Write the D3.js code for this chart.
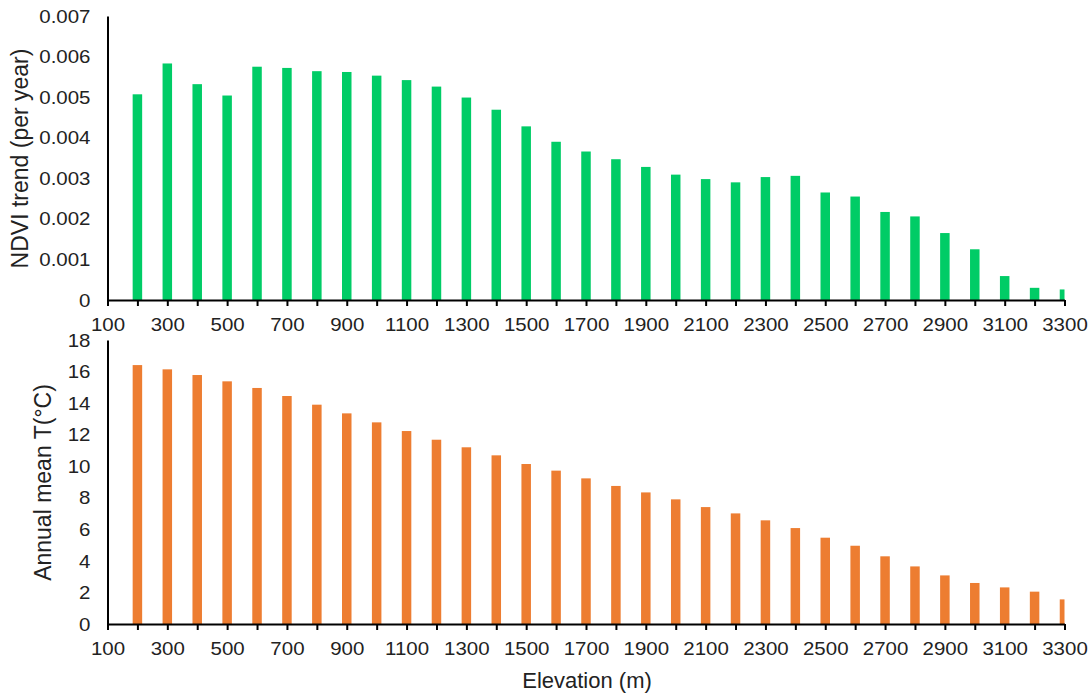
<!DOCTYPE html>
<html>
<head>
<meta charset="utf-8">
<script src="https://cdn.jsdelivr.net/npm/d3@7"></script>
<style>
  html, body { margin: 0; padding: 0; background: #fff; }
  svg { display: block; font-family: "Liberation Sans", Arial, sans-serif; }
</style>
</head>
<body>
<svg id="chart" width="1092" height="694"></svg>
<script>
// ---------- data ----------
const elevations = [200, 300, 400, 500, 600, 700, 800, 900, 1000, 1100, 1200, 1300, 1400, 1500, 1600, 1700,
  1800, 1900, 2000, 2100, 2200, 2300, 2400, 2500, 2600, 2700, 2800, 2900, 3000, 3100, 3200, 3300];
const ndviTrend = [0.00507, 0.00583, 0.00532, 0.00504, 0.00575, 0.00572, 0.00564, 0.00562, 0.00553, 0.00542,
  0.00526, 0.00499, 0.00469, 0.00428, 0.00390, 0.00366, 0.00347, 0.00328, 0.00309, 0.00298, 0.00290,
  0.00303, 0.00306, 0.00265, 0.00255, 0.00217, 0.00206, 0.00165, 0.00125, 0.00059, 0.00030, 0.00026];
const meanTemp = [16.41, 16.14, 15.78, 15.38, 14.96, 14.45, 13.90, 13.35, 12.78, 12.23, 11.68, 11.20, 10.69,
  10.14, 9.72, 9.23, 8.75, 8.34, 7.90, 7.41, 7.01, 6.57, 6.08, 5.47, 4.96, 4.29, 3.65, 3.08, 2.60, 2.32, 2.05, 1.56];
const xTickValues = [100, 200, 300, 400, 500, 600, 700, 800, 900, 1000, 1100, 1200, 1300, 1400, 1500, 1600, 1700,
  1800, 1900, 2000, 2100, 2200, 2300, 2400, 2500, 2600, 2700, 2800, 2900, 3000, 3100, 3200, 3300];
const xTickLabels = [100, 300, 500, 700, 900, 1100, 1300, 1500, 1700, 1900, 2100, 2300, 2500, 2700, 2900, 3100, 3300];
const ndviTicks = [0, 0.001, 0.002, 0.003, 0.004, 0.005, 0.006, 0.007];
const tempTicks = [0, 2, 4, 6, 8, 10, 12, 14, 16, 18];

// ---------- layout ----------
const svg = d3.select("#chart");
const plotLeft = 107.5, plotRight = 1064.5;
const tickFont = 17.5, tickStretch = 1.17;
const labelSet = new Set(xTickLabels);

const x = d3.scaleLinear().domain([100, 3300]).range([plotLeft, plotRight]);
const barW = 9.5;

svg.append("defs").append("clipPath").attr("id", "plotclip")
  .append("rect").attr("x", plotLeft).attr("y", 0).attr("width", plotRight - plotLeft).attr("height", 694);

function panel(values, yDomain, yTicks, top, bottom, color, fmt, title, titleX) {
  const y = d3.scaleLinear().domain(yDomain).range([bottom, top]);

  svg.append("g").attr("clip-path", "url(#plotclip)")
    .selectAll("rect").data(values).join("rect")
    .attr("x", (d, i) => x(elevations[i]) - barW / 2)
    .attr("width", barW)
    .attr("y", d => y(d))
    .attr("height", d => y(0) - y(d))
    .attr("fill", color);

  // y axis
  const ya = svg.append("g").attr("transform", `translate(${plotLeft},0)`)
    .call(d3.axisLeft(y).tickValues(yTicks).tickFormat(fmt).tickSize(0).tickSizeOuter(0));
  ya.select(".domain").attr("stroke", "#000").attr("stroke-width", 2);
  ya.selectAll(".tick line").remove();
  ya.selectAll("text")
    .attr("x", 0).attr("dy", "0.35em")
    .attr("transform", `translate(-17,0) scale(${tickStretch},1)`)
    .attr("font-size", tickFont).attr("fill", "#222")
    .attr("font-family", "Liberation Sans, Arial, sans-serif");

  // x axis
  const xa = svg.append("g").attr("transform", `translate(0,${bottom})`)
    .call(d3.axisBottom(x).tickValues(xTickValues)
      .tickFormat(d => labelSet.has(d) ? String(d) : "").tickSize(6).tickSizeOuter(0));
  xa.select(".domain").attr("stroke", "#000").attr("stroke-width", 2);
  xa.selectAll(".tick line").attr("stroke", "#000").attr("stroke-width", 2);
  xa.selectAll("text")
    .attr("y", 31).attr("dy", 0)
    .attr("transform", `scale(${tickStretch},1)`)
    .attr("font-size", tickFont).attr("fill", "#222")
    .attr("font-family", "Liberation Sans, Arial, sans-serif");

  // y title
  svg.append("text")
    .attr("transform", `translate(${titleX},${(top + bottom) / 2 + 0.5}) rotate(-90)`)
    .attr("text-anchor", "middle")
    .attr("font-size", 23).attr("fill", "#222")
    .text(title);
}

panel(ndviTrend, [0, 0.007], ndviTicks, 16, 300, "#00cc66",
  d => d === 0 ? "0" : d3.format(".3f")(d), "NDVI trend (per year)", 27.5);
panel(meanTemp, [0, 18], tempTicks, 340, 624, "#ed7d31",
  d => String(d), "Annual mean T(°C)", 50.5);

svg.append("text")
  .attr("x", (plotLeft + plotRight) / 2 + 1).attr("y", 688)
  .attr("text-anchor", "middle").attr("font-size", 22).attr("fill", "#222")
  .text("Elevation (m)");
</script>
</body>
</html>
